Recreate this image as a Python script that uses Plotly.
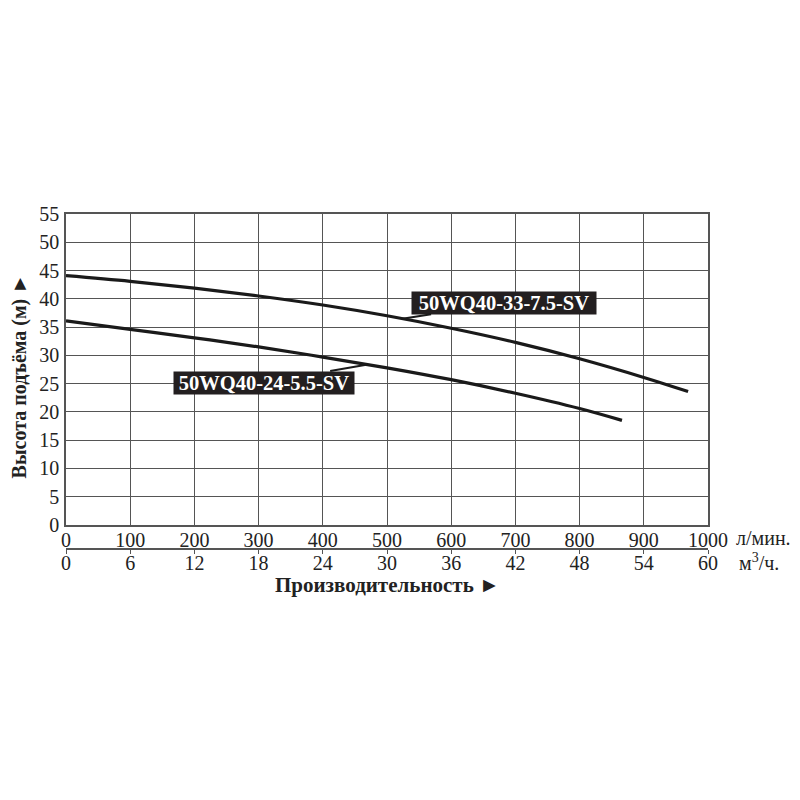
import plotly.graph_objects as go
import numpy as np

# Data
flow_a = [0, 100, 200, 300, 400, 500, 600, 700, 800, 900, 969]
head_a = [44.1, 43.1, 41.9, 40.5, 38.9, 37.0, 34.8, 32.3, 29.4, 26.1, 23.6]
flow_b = [0, 100, 200, 300, 400, 500, 600, 700, 800, 866]
head_b = [36.1, 34.6, 33.1, 31.5, 29.7, 27.8, 25.7, 23.3, 20.6, 18.5]
name_a = "50WQ40-33-7.5-SV"
name_b = "50WQ40-24-5.5-SV"
label_flow_a = 524
label_flow_b = 470

x_ticks_lpm = list(range(0, 1001, 100))
x_ticks_m3h = list(range(0, 61, 6))
y_ticks = list(range(0, 56, 5))

SERIF = "Liberation Serif, Times New Roman, serif"
GRID = "#555555"
TXT = "#222222"

fig = go.Figure()
fig.add_trace(go.Scatter(x=flow_a, y=head_a, mode="lines", line=dict(color="#1a1a1a", width=3.2, shape="spline"),
                         showlegend=False, hoverinfo="skip"))
fig.add_trace(go.Scatter(x=flow_b, y=head_b, mode="lines", line=dict(color="#1a1a1a", width=3.2, shape="spline"),
                         showlegend=False, hoverinfo="skip"))
# invisible trace for the secondary (m3/h) axis
fig.add_trace(go.Scatter(x=[0, 60], y=[None, None], xaxis="x2", yaxis="y", mode="lines",
                         showlegend=False, hoverinfo="skip"))

fig.update_layout(
    width=800, height=800,
    paper_bgcolor="white", plot_bgcolor="white",
    margin=dict(l=58, r=100, t=206, b=200, autoexpand=False),
    font=dict(family=SERIF, color=TXT, size=19),
    xaxis=dict(range=[0, 1000], tickvals=x_ticks_lpm, showgrid=True, gridcolor=GRID, gridwidth=1.3,
               showline=True, linecolor=GRID, linewidth=1.5, mirror=True, ticks="", zeroline=False,
               tickfont=dict(size=20, family=SERIF, color=TXT), anchor="y", ticklabelstandoff=-4),
    xaxis2=dict(range=[0, 60], tickvals=x_ticks_m3h, overlaying="x", anchor="free", position=0.1497,
                side="bottom", showgrid=False, showline=True, linecolor=GRID, linewidth=1.5,
                ticks="outside", ticklen=4, tickcolor=GRID, zeroline=False, ticklabelstandoff=-8,
                tickfont=dict(size=20, family=SERIF, color=TXT)),
    yaxis=dict(range=[0, 55], tickvals=y_ticks, domain=[0.2107, 1], showgrid=True, gridcolor=GRID, gridwidth=1.3,
               showline=True, linecolor=GRID, linewidth=1.5, mirror=True, ticks="", zeroline=False,
               tickfont=dict(size=20, family=SERIF, color=TXT), ticklabelstandoff=1),
)

annos = [
    dict(x=label_flow_a, y=float(np.interp(label_flow_a, flow_a, head_a)), xref="x", yref="y",
         text="<b>" + name_a + "</b>", showarrow=True, arrowhead=0, arrowwidth=2, arrowcolor="#1a1a1a",
         ax=102, ay=-16, bgcolor="#231f20", font=dict(color="white", size=20.5, family=SERIF),
         borderpad=0, width=184, height=22),
    dict(x=label_flow_b, y=float(np.interp(label_flow_b, flow_b, head_b)), xref="x", yref="y",
         text="<b>" + name_b + "</b>", showarrow=True, arrowhead=0, arrowwidth=2, arrowcolor="#1a1a1a",
         ax=-104, ay=18, bgcolor="#231f20", font=dict(color="white", size=20.5, family=SERIF),
         borderpad=0, width=180, height=22),
    dict(x=1.0, y=0.178, xref="paper", yref="paper", text="л/мин.", showarrow=False, xanchor="left",
         xshift=26, yanchor="middle", font=dict(size=20, family=SERIF, color=TXT)),
    dict(x=1.0, y=0.117, xref="paper", yref="paper", text="м<sup>3</sup>/ч.", showarrow=False, xanchor="left",
         xshift=29, yanchor="middle", font=dict(size=20, family=SERIF, color=TXT)),
    dict(x=0.5, y=0.059, xref="paper", yref="paper", text="<b>Производительность ►</b>", showarrow=False,
         xanchor="center", yanchor="middle", font=dict(size=21, family=SERIF, color=TXT)),
    dict(x=-0.0725, y=0.589, xref="paper", yref="paper", text="<b>Высота подъёма (м) ►</b>", showarrow=False,
         textangle=-90, xanchor="center", yanchor="middle", font=dict(size=20, family=SERIF, color=TXT)),
]
fig.update_layout(annotations=annos)

fig.write_html("out.html")
